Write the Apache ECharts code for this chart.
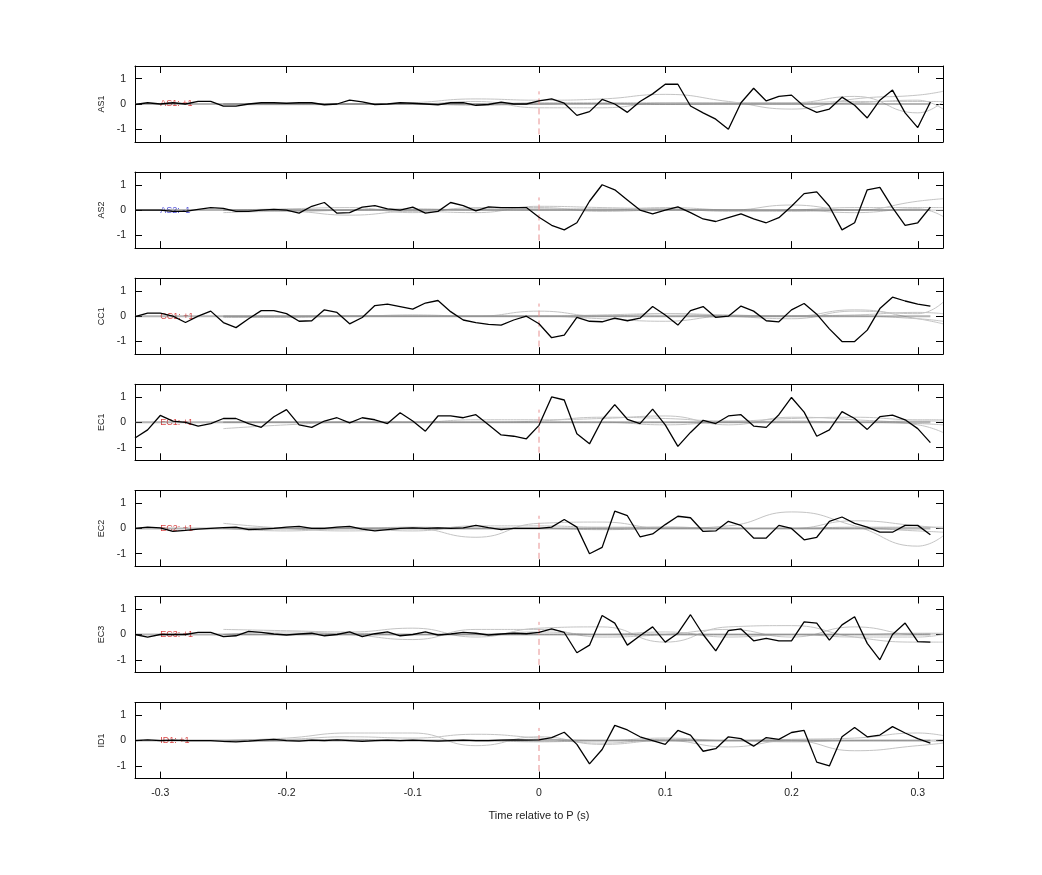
<!DOCTYPE html>
<html>
<head>
<meta charset="utf-8">
<script src="https://cdn.jsdelivr.net/npm/echarts@6/dist/echarts.min.js"></script>
<style>html,body{margin:0;background:#fff}</style>
</head>
<body>
<div id="chart" style="width:1042px;height:875px;"></div>
<script>
// time axis of the black traces: -0.32 .. 0.31 s in 0.01 steps
const times = Array.from({ length: 64 }, (_, i) => +(-0.32 + i * 0.01).toFixed(2))
const grayTimes = [-0.25, -0.2, -0.15, -0.1, -0.05, 0, 0.05, 0.1, 0.15, 0.2, 0.25, 0.3, 0.32]
const stations = ["AS1", "AS2", "CC1", "EC1", "EC2", "EC3", "ID1"]
const polarity = ["+1", "-1", "+1", "+1", "+1", "+1", "+1"]
const xTicks = [-0.3, -0.2, -0.1, 0, 0.1, 0.2, 0.3]
const yTicks = [-1, 0, 1]
const onsetSpan = [-1.2, 0.5]

const traces = [
  [-0.02,0.05,0,0.05,0,0.1,0.1,-0.08,-0.08,0,0.05,0.05,0.03,0.05,0.05,-0.03,0,0.15,0.08,-0.02,0,0.05,0.03,0,-0.03,0.05,0.05,-0.05,-0.02,0.07,0,0,
   0.12,0.2,0.03,-0.45,-0.3,0.18,0,-0.33,0.1,0.4,0.78,0.78,-0.08,-0.35,-0.6,-1,0.05,0.62,0.12,0.3,0.35,-0.1,-0.33,-0.2,0.27,-0.05,-0.55,0.15,0.55,-0.35,-0.93,0.08],
  [0,0,0,-0.05,-0.05,0.03,0.1,0.07,-0.05,-0.05,0,0.03,0,-0.12,0.15,0.3,-0.12,-0.1,0.12,0.18,0.05,0,0.12,-0.12,-0.05,0.3,0.18,-0.03,0.13,0.1,0.1,0.1,
   -0.28,-0.6,-0.78,-0.5,0.35,1,0.8,0.4,0,-0.15,0,0.13,-0.1,-0.35,-0.45,-0.3,-0.15,-0.35,-0.5,-0.3,0.15,0.65,0.72,0.15,-0.78,-0.5,0.8,0.9,0.1,-0.6,-0.5,0.12],
  [-0.02,0.12,0.12,0,-0.25,0,0.2,-0.25,-0.45,-0.1,0.22,0.22,0.1,-0.2,-0.18,0.25,0.15,-0.3,-0.05,0.42,0.48,0.38,0.28,0.52,0.62,0.18,-0.15,-0.25,-0.32,-0.35,-0.15,0,
   -0.3,-0.85,-0.75,-0.05,-0.2,-0.22,-0.08,-0.18,-0.08,0.38,0.05,-0.35,0.22,0.38,-0.05,0,0.4,0.2,-0.18,-0.22,0.25,0.5,0.08,-0.5,-1,-1,-0.55,0.3,0.75,0.6,0.48,0.4],
  [-0.62,-0.3,0.27,0.05,0,-0.15,-0.05,0.15,0.15,-0.05,-0.2,0.22,0.5,-0.1,-0.2,0.05,0.18,-0.02,0.18,0.1,-0.05,0.38,0.05,-0.35,0.25,0.25,0.18,0.3,-0.1,-0.5,-0.55,-0.65,
   -0.12,1,0.88,-0.45,-0.85,0.1,0.7,0.12,-0.05,0.52,-0.1,-0.95,-0.4,0.08,-0.05,0.25,0.3,-0.15,-0.2,0.3,0.98,0.4,-0.55,-0.3,0.42,0.15,-0.28,0.22,0.28,0.1,-0.25,-0.8],
  [0,0.05,0.02,-0.12,-0.08,-0.03,0,0.03,0.05,-0.05,-0.03,0,0.05,0.08,0,0,0.05,0.08,-0.03,-0.1,-0.05,0,0.02,0,0.02,0,0.02,0.12,0.03,-0.05,0,0,
   0,0.05,0.35,0.05,-1,-0.75,0.68,0.5,-0.33,-0.22,0.15,0.48,0.42,-0.12,-0.1,0.28,0.12,-0.38,-0.38,0.12,0,-0.45,-0.35,0.28,0.45,0.2,0.05,-0.15,-0.15,0.12,0.12,-0.25],
  [0,-0.1,0,0,0,0.08,0.08,-0.08,-0.05,0.12,0.08,0.02,-0.02,0.02,0.05,-0.05,0,0.1,-0.08,0.03,0.1,-0.05,0,0.1,-0.02,0.02,0.08,0.05,-0.02,0.02,0.05,0.03,
   0.08,0.22,0.08,-0.72,-0.42,0.75,0.45,-0.42,-0.05,0.3,-0.3,0.05,0.78,0,-0.65,0.15,0.22,-0.25,-0.15,-0.25,-0.25,0.5,0.45,-0.22,0.38,0.7,-0.35,-1,0,0.45,-0.28,-0.3],
  [0,0.03,0,0.02,0,0,0,-0.03,-0.05,-0.02,0.02,0.05,0,-0.02,0.02,0,0.03,0,-0.03,0,0.02,0,0.02,0,-0.02,0,0.02,0,0,0.02,0.03,0.02,
   0.03,0.12,0.33,-0.15,-0.92,-0.35,0.6,0.42,0.15,0,-0.15,0.4,0.22,-0.42,-0.32,0.15,0.08,-0.22,0.12,0.05,0.32,0.4,-0.85,-1,0.15,0.52,0.15,0.22,0.55,0.3,0.08,-0.1]
]

// gray comparison traces, sampled at grayTimes
const grays = [
  [[0,0.02,0,0.05,0.2,0.15,0.2,0.38,0.1,-0.2,0.2,0.35,0.5],[0,0,0.02,0,0.1,-0.15,-0.15,0.05,0.05,0.05,0.3,-0.35,0.1],[0,0,0,0,0,0.05,0.05,0.05,0.05,0.05,0.1,0.1,0.1],[-0.03,-0.03,-0.02,0,-0.05,0,0.02,-0.02,0,0,0.05,0.15,-0.2]],
  [[-0.1,-0.05,-0.2,-0.05,-0.1,0.15,0.1,0.05,0,0.2,0,0.35,0.45],[0,0,0,0,0.05,0.05,0.05,0.05,-0.05,0,0.1,0.1,0.1],[0,0.05,0.1,-0.1,0.1,0.1,-0.05,0,0,0,-0.1,0.05,-0.25],[0,-0.05,0,0.05,0,0,0,0.1,0,-0.05,0,0,0]],
  [[0,0,0,0,0,0.2,0,0.1,0,-0.1,0.2,0.1,0.55],[0,0,0,0.05,0,0,-0.1,-0.2,0,0,0.25,-0.1,-0.3],[-0.05,-0.05,0,0,0,0,0.05,0.1,0.05,0,0,-0.1,-0.2],[0,0,0.02,0,0,0,0,0,0.02,0.02,0.05,0.15,0.1]],
  [[-0.25,-0.1,0,0,0.1,0.1,0.15,0.25,-0.1,0.2,0.1,-0.1,-0.4],[0,0,0,0,0,0.05,0.2,0.15,0.05,0.15,0.2,0.1,0.1],[0,0,0,0,0,0,0,-0.1,0,0,0,-0.05,-0.1],[0,0,0,0,0,0,0,0,0,0.05,0,0.05,0.05]],
  [[0.2,0,-0.1,0,-0.35,0.2,0.25,0,0.1,0.65,0.1,-0.7,-0.3],[0,-0.1,0,-0.1,0.1,0.1,0.05,0.05,0,0,0.3,0.1,0],[0,0,0,0.05,0,0,0,0.05,0,0,0,-0.1,-0.15],[0,0,0.02,0,0,0,-0.05,0,0,0,0.05,0.05,0.05]],
  [[0.2,0.15,0.1,0.25,-0.1,0.25,0.3,-0.3,0.3,0.35,-0.1,-0.3,-0.3],[0,0.1,0,-0.2,0.2,0.2,-0.1,0,0.2,-0.1,0.3,0,0.05],[0,0,0.05,0,0,0.1,0,0.1,-0.1,0,-0.1,-0.1,0],[0,0,0,0,0,0,0,0,0,0,0,0.05,0.05]],
  [[0,0.1,0.3,0.3,-0.2,0.15,-0.15,0,-0.25,0,-0.4,-0.2,-0.1],[0,0.05,0.15,0.1,0.25,0.1,-0.1,0.05,0,0.05,0.1,0.3,0.2],[0,0,0,0,0,-0.05,0,0,0,-0.05,0,0,0.05],[-0.05,0,0.05,0,0,0.05,0,0.1,0,0,0,0,-0.05]]
]

const top0 = 66, step = 106.1, panelH = 76
const grid = [], xAxis = [], yAxis = [], series = []
const font = "Liberation Sans, Arial, sans-serif"
const frame = { onZero: false, lineStyle: { color: "#000", width: 1 } }

stations.forEach((name, k) => {
  const last = k === stations.length - 1
  grid.push({ left: 135, right: 99, top: top0 + k * step, height: panelH })
  xAxis.push({
    gridIndex: k, type: "value", min: -0.32, max: 0.32,
    axisLine: frame,
    axisTick: { inside: true, length: 7, lineStyle: { color: "#000" }, customValues: xTicks },
    axisLabel: { show: last, customValues: xTicks, color: "#222", fontFamily: font, fontSize: 10.5, margin: 9,
      formatter: v => (Math.abs(v) < 1e-9 ? "0" : String(+v.toFixed(1))) },
    splitLine: { show: false },
    name: last ? "Time relative to P (s)" : "", nameLocation: "middle", nameGap: 32,
    nameTextStyle: { color: "#222", fontFamily: font, fontSize: 11 }
  })
  xAxis.push({
    gridIndex: k, type: "value", min: -0.32, max: 0.32, position: "top",
    axisLine: frame,
    axisTick: { inside: true, length: 7, lineStyle: { color: "#000" }, customValues: xTicks },
    axisLabel: { show: false }, splitLine: { show: false }
  })
  yAxis.push({
    gridIndex: k, type: "value", min: -1.5, max: 1.5,
    axisLine: { show: true, ...frame },
    axisTick: { inside: true, length: 7, lineStyle: { color: "#000" }, customValues: yTicks },
    axisLabel: { customValues: yTicks, color: "#222", fontFamily: font, fontSize: 10.5, margin: 9 },
    splitLine: { show: false },
    name: name, nameLocation: "middle", nameGap: 29, nameRotate: 90,
    nameTextStyle: { color: "#222", fontFamily: font, fontSize: 9 }
  })
  yAxis.push({
    gridIndex: k, type: "value", min: -1.5, max: 1.5, position: "right",
    axisLine: { show: true, ...frame },
    axisTick: { inside: true, length: 7, lineStyle: { color: "#000" }, customValues: yTicks },
    axisLabel: { show: false }, splitLine: { show: false }
  })
  const xi = k * 2, yi = k * 2
  grays[k].forEach(g => series.push({
    type: "line", xAxisIndex: xi, yAxisIndex: yi, smooth: 0.5, showSymbol: false, silent: true,
    lineStyle: { color: "#c4c4c4", width: 1 },
    data: g.map((v, i) => [grayTimes[i], v])
  }))
  series.push({
    type: "line", xAxisIndex: xi, yAxisIndex: yi, showSymbol: false, silent: true,
    lineStyle: { color: "#5a5a5a", width: 2, opacity: 0.45 },
    data: times.map(t => [t, 0])
  })
  series.push({
    type: "line", xAxisIndex: xi, yAxisIndex: yi, showSymbol: false, silent: true,
    lineStyle: { color: "#e89090", width: 1, type: [6, 4] },
    data: onsetSpan.map(v => [0, v])
  })
  series.push({
    type: "line", xAxisIndex: xi, yAxisIndex: yi, showSymbol: false, silent: true,
    lineStyle: { color: "#000", width: 1.3 },
    data: times.map((t, i) => [t, traces[k][i]])
  })
  series.push({
    type: "scatter", xAxisIndex: xi, yAxisIndex: yi, symbolSize: 0, silent: true,
    data: [[-0.3, 0]],
    label: { show: true, position: "right", distance: 0, formatter: name + ": " + polarity[k],
      color: polarity[k] === "-1" ? "#1a1acc" : "#d01010", fontFamily: font, fontSize: 9 }
  })
})

const myChart = echarts.init(document.getElementById("chart"), null, { renderer: "canvas" })
myChart.setOption({ backgroundColor: "#fff", animation: false, grid, xAxis, yAxis, series })
</script>
</body>
</html>
